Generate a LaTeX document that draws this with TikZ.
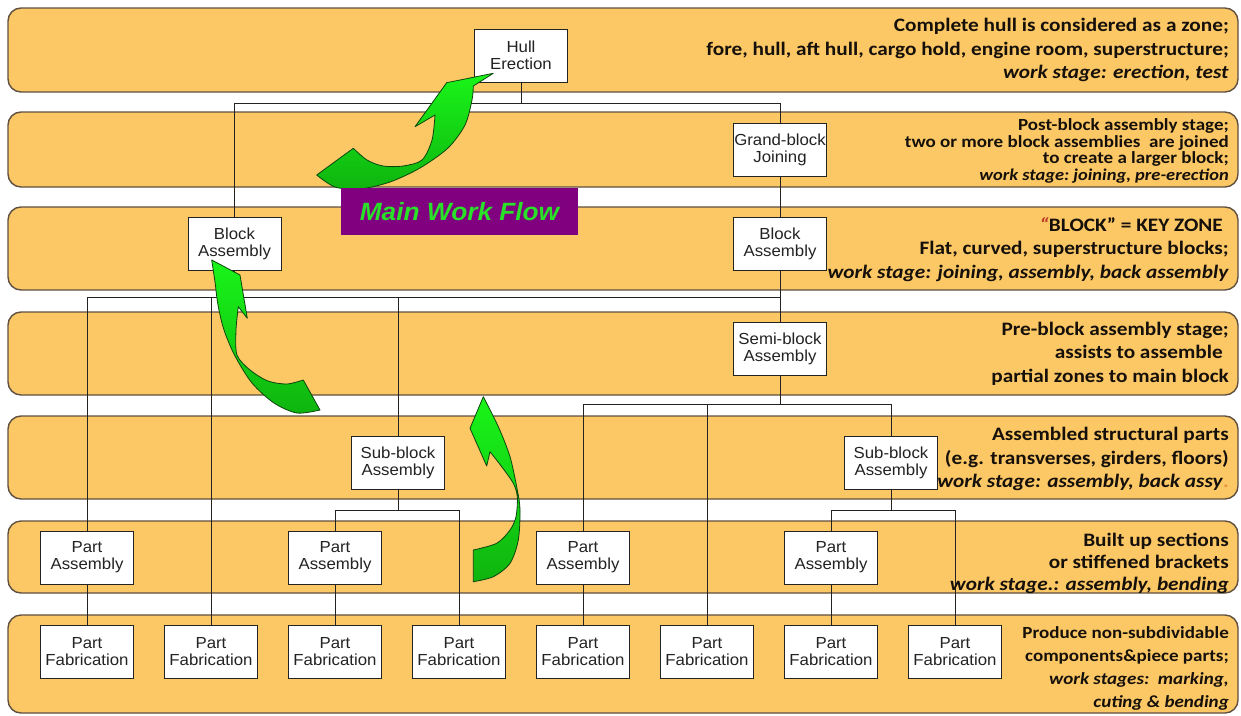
\documentclass[tikz,border=0pt]{standalone}
\usepackage{fontspec}
\setmainfont{Carlito}[FakeStretch=1.12]
\newfontfamily\boxfont{Liberation Sans}[FakeStretch=1.05]

\definecolor{bandfill}{RGB}{252,200,102}
\definecolor{bandline}{RGB}{95,80,65}
\definecolor{flowpurple}{RGB}{128,0,128}
\definecolor{flowgreen}{RGB}{40,225,40}
\definecolor{arrowtop}{RGB}{25,245,25}
\definecolor{arrowbot}{RGB}{15,180,15}
\definecolor{arrowline}{RGB}{10,70,10}
\definecolor{ink}{RGB}{35,35,35}
\definecolor{notetext}{RGB}{22,16,10}
\definecolor{quotemark}{RGB}{190,60,40}
\definecolor{faint}{RGB}{235,150,60}

\tikzset{
  band/.style={draw=bandline, line width=1.4pt, fill=bandfill, rounded corners=13pt},
  stage/.style={draw=ink, line width=0.9pt, fill=white, minimum width=93pt,
    minimum height=53pt, inner sep=0pt, align=center, text=ink,
    font=\boxfont\fontsize{16}{17}\selectfont},
  link/.style={draw=ink, line width=0.9pt},
  note/.style={anchor=east, align=right, inner sep=0pt, text=notetext,
    font=\bfseries\fontsize{19}{23.5}\selectfont},
  flow/.style={top color=arrowtop, bottom color=arrowbot, draw=arrowline,
    line width=0.8pt, line join=round},
}

\begin{document}
\begin{tikzpicture}[x=1pt,y=-1pt]
\useasboundingbox (0,0) rectangle (1241,715);

% zone bands
\path[band] (8,8)   rectangle (1238,92);
\path[band] (8,112) rectangle (1238,187);
\path[band] (8,207) rectangle (1238,290);
\path[band] (8,312) rectangle (1238,395);
\path[band] (8,416) rectangle (1238,499);
\path[band] (8,521) rectangle (1238,593);
\path[band] (8,615) rectangle (1238,713);

% work stages
\node[stage] (hull)   at (521,55.5)   {Hull\\Erection};
\node[stage] (grand)  at (780,149.5)  {Grand-block\\Joining};
\node[stage] (blockL) at (234.5,243.5){Block\\Assembly};
\node[stage] (blockR) at (780,243.5)  {Block\\Assembly};
\node[stage] (semi)   at (780,348.5)  {Semi-block\\Assembly};
\node[stage] (subL)   at (398,463)    {Sub-block\\Assembly};
\node[stage] (subR)   at (891,463)    {Sub-block\\Assembly};
\node[stage] (pa1) at (87,557.5)  {Part\\Assembly};
\node[stage] (pa2) at (335,557.5) {Part\\Assembly};
\node[stage] (pa3) at (583,557.5) {Part\\Assembly};
\node[stage] (pa4) at (831,557.5) {Part\\Assembly};
\node[stage] (pf1) at (87,651.5)  {Part\\Fabrication};
\node[stage] (pf2) at (211,651.5) {Part\\Fabrication};
\node[stage] (pf3) at (335,651.5) {Part\\Fabrication};
\node[stage] (pf4) at (459,651.5) {Part\\Fabrication};
\node[stage] (pf5) at (583,651.5) {Part\\Fabrication};
\node[stage] (pf6) at (707,651.5) {Part\\Fabrication};
\node[stage] (pf7) at (831,651.5) {Part\\Fabrication};
\node[stage] (pf8) at (955,651.5) {Part\\Fabrication};

% bus levels of the tree
\coordinate (b1) at (0,103);
\coordinate (b2) at (0,297);
\coordinate (b3) at (0,404);
\coordinate (b4) at (0,510);

% tree connectors
\draw[link] (hull.south) -- (hull.south |- b1);
\draw[link] (blockL.north) |- (grand.north |- b1) -- (grand.north);
\draw[link] (grand.south) -- (blockR.north);
\draw[link] (blockR.south) -- (semi.north);
\draw[link] (pa1.north) |- (blockR.south |- b2);
\draw[link] (blockL.south) -- (blockL.south |- b2);
\draw[link] (pf2.north) -- (pf2.north |- b2);
\draw[link] (subL.north) -- (subL.north |- b2);
\draw[link] (semi.south) -- (semi.south |- b3);
\draw[link] (pa3.north) |- (subR.north |- b3) -- (subR.north);
\draw[link] (pf6.north) -- (pf6.north |- b3);
\draw[link] (subL.south) -- (subL.south |- b4);
\draw[link] (pa2.north) |- (pf4.north |- b4) -- (pf4.north);
\draw[link] (subR.south) -- (subR.south |- b4);
\draw[link] (pa4.north) |- (pf8.north |- b4) -- (pf8.north);
\draw[link] (pa1.south) -- (pf1.north);
\draw[link] (pa2.south) -- (pf3.north);
\draw[link] (pa3.south) -- (pf5.north);
\draw[link] (pa4.south) -- (pf7.north);

% curved flow arrows
\path[flow] (353.3,148.3) -- (316.7,175)
  -- plot[smooth] coordinates {(316.7,175) (335,187) (360,189) (390,182) (420,168) (448,148) (465,125) (472,100) (473.3,86)}
  -- (493.3,73.3) -- (446.7,82.7) -- (415,126.7) -- (435,115)
  -- plot[smooth] coordinates {(435,115) (432,140) (422,160) (403,166) (383,166) (367,160) (353.3,148.3)}
  -- cycle;

\path[flow] (211.7,260) -- (240,275) -- (247.3,318.3) -- (238.3,306.7)
  -- plot[smooth] coordinates {(238.3,306.7) (236,330) (237,355) (250,370) (268,381) (287,384) (303.3,380)}
  -- (320,410)
  -- plot[smooth] coordinates {(320,410) (297,413) (274,403) (252,383) (235,356) (224,330) (218,305) (215,282) (211.7,260)}
  -- cycle;

\path[flow] (483.3,396.7) -- (470,428.3) -- (486.7,466) -- (490,451.7)
  -- plot[smooth] coordinates {(490,451.7) (501.7,466.7) (513.3,483.3) (517.3,496.7) (516,516.7) (510,530) (496.7,543.3) (473.3,550)}
  -- (473.3,581.7)
  -- plot[smooth] coordinates {(473.3,581.7) (493.3,576.7) (510,563.3) (518.3,540) (520,510) (517.3,490) (510,456.7) (498.3,426.7) (483.3,396.7)}
  -- cycle;

% flow label
\node[fill=flowpurple, minimum width=237pt, minimum height=47pt, inner sep=0pt,
  text=flowgreen, font=\boxfont\bfseries\itshape\fontsize{25}{28}\selectfont]
  (mwf) at (459.5,211.5) {Main Work Flow};

% zone descriptions
\node[note] (z1) at (1229,50) {Complete hull is considered as a zone;\\
  fore, hull, aft hull, cargo hold, engine room, superstructure;\\
  \textit{work stage: erection, test}};
\node[note, font=\bfseries\fontsize{17}{16.8}\selectfont] (z2) at (1229,151)
  {Post-block assembly stage;\\
  two or more block assemblies\ \ are joined\\
  to create a larger block;\\
  {\fontsize{16.5}{16.8}\selectfont\textit{work stage:\ joining,\ pre-erection}}};
\node[note] (z3) at (1229,249.5) {\textcolor{quotemark}{\textit{“}}BLOCK” = KEY ZONE\kern6pt\\
  Flat, curved, superstructure blocks;\\
  \textit{work stage: joining, assembly, back assembly}};
\node[note] (z4) at (1229,353.5) {Pre-block assembly stage;\\
  assists to assemble\kern6pt\\
  partial zones to main block};
\node[note] (z5) at (1229,459) {Assembled structural parts\\
  (e.g. transverses, girders, floors)\\
  \textit{work stage: assembly, back assy}\textcolor{faint}{.}};
\node[note, font=\bfseries\fontsize{19}{22}\selectfont] (z6) at (1229,563) {Built up sections\\
  or stiffened brackets\\
  \textit{work stage.: assembly, bending}};
\node[note, font=\bfseries\fontsize{17}{23}\selectfont] (z7) at (1229,668) {Produce non-subdividable\\
  components\&piece parts;\\
  \textit{work stages:\ \ marking,}\\
  \textit{cuting \& bending}};
\end{tikzpicture}
\end{document}
